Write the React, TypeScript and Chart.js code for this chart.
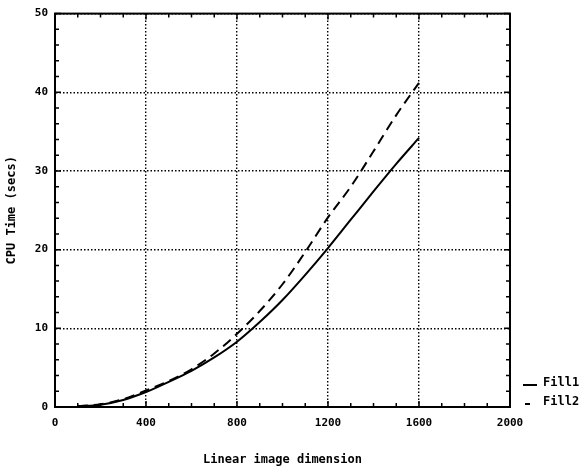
import React, { useEffect, useRef } from "react";
import { Chart, registerables } from "chart.js";
Chart.register(...registerables);

const dims = [100, 200, 300, 400, 500, 600, 700, 800, 900, 1000, 1100, 1200, 1300, 1400, 1500, 1600];
const fill1 = [0.1, 0.3, 0.9, 1.9, 3.2, 4.6, 6.3, 8.3, 10.8, 13.6, 16.8, 20.2, 23.8, 27.4, 30.9, 34.2];
const fill2 = [0.1, 0.35, 1.0, 2.1, 3.3, 4.8, 6.8, 9.3, 12.2, 15.6, 19.7, 24.1, 28.0, 32.5, 37.1, 41.2];
const seriesNames = ["Fill1", "Fill2"];
const xTitle = "Linear image dimension";
const yTitle = "CPU Time (secs)";

const FONT = "'DejaVu Sans Mono', 'Liberation Mono', monospace";

const framePlugin = {
  id: "frame",
  afterDraw(chart: any) {
    const { ctx, chartArea: a, scales } = chart;
    const xs = scales.x;
    const ys = scales.y;
    ctx.save();
    ctx.strokeStyle = "#000";
    ctx.setLineDash([]);
    ctx.lineWidth = 2;
    ctx.strokeRect(a.left, a.top, a.right - a.left, a.bottom - a.top);
    ctx.lineWidth = 1.5;
    ctx.beginPath();
    for (let v = 0; v <= 2000; v += 100) {
      const px = xs.getPixelForValue(v);
      const len = v % 400 === 0 ? 6 : 4;
      ctx.moveTo(px, a.bottom);
      ctx.lineTo(px, a.bottom - len);
      ctx.moveTo(px, a.top);
      ctx.lineTo(px, a.top + len);
    }
    for (let v = 0; v <= 50; v += 2) {
      const py = ys.getPixelForValue(v);
      const len = v % 10 === 0 ? 6 : 4;
      ctx.moveTo(a.left, py);
      ctx.lineTo(a.left + len, py);
      ctx.moveTo(a.right, py);
      ctx.lineTo(a.right - len, py);
    }
    ctx.stroke();
    // legend
    ctx.font = "bold 12px " + FONT;
    ctx.fillStyle = "#000";
    ctx.textBaseline = "middle";
    ctx.textAlign = "left";
    const lx = a.right + 13;
    const y1 = a.bottom - 24;
    const y2 = a.bottom - 5;
    ctx.lineWidth = 2;
    ctx.beginPath();
    ctx.moveTo(lx, y1 + 2);
    ctx.lineTo(lx + 14, y1 + 2);
    ctx.moveTo(lx + 2, y2 + 2);
    ctx.lineTo(lx + 7, y2 + 2);
    ctx.stroke();
    ctx.fillText(seriesNames[0], lx + 20, y1);
    ctx.fillText(seriesNames[1], lx + 20, y2);
    ctx.restore();
  },
};

export default function App() {
  const ref = useRef<HTMLCanvasElement>(null);
  useEffect(() => {
    if (!ref.current) return;
    const chart = new Chart(ref.current, {
      type: "line",
      data: {
        datasets: [
          {
            label: seriesNames[0],
            data: dims.map((d, i) => ({ x: d, y: fill1[i] })),
            borderColor: "#000",
            borderWidth: 2,
            pointRadius: 0,
            cubicInterpolationMode: "monotone",
            fill: false,
          },
          {
            label: seriesNames[1],
            data: dims.map((d, i) => ({ x: d, y: fill2[i] })),
            borderColor: "#000",
            borderWidth: 2,
            borderDash: [10, 6],
            pointRadius: 0,
            cubicInterpolationMode: "monotone",
            fill: false,
          },
        ],
      },
      options: {
        animation: false,
        responsive: false,
        layout: { padding: { left: 0, top: 11, right: 72, bottom: 0 } },
        plugins: { legend: { display: false }, tooltip: { enabled: false } },
        scales: {
          x: {
            type: "linear",
            min: 0,
            max: 2000,
            afterFit: (s: any) => {
              s.height = 64;
            },
            ticks: {
              stepSize: 400,
              color: "#000",
              padding: 10,
              maxRotation: 0,
              callback: (v: any) => String(v),
              font: { family: FONT, size: 11, weight: "bold" },
            },
            grid: { color: "#000", lineWidth: 1.4, drawTicks: false },
            border: { display: true, color: "#000", width: 2, dash: [1.5, 2] },
            title: {
              display: true,
              text: xTitle,
              color: "#000",
              font: { family: FONT, size: 12, weight: "bold" },
              padding: { top: 0, bottom: 4 },
            },
          },
          y: {
            type: "linear",
            min: 0,
            max: 50,
            afterFit: (s: any) => {
              s.width = 55;
            },
            ticks: {
              stepSize: 10,
              color: "#000",
              padding: 7,
              callback: (v: any) => String(v),
              font: { family: FONT, size: 11, weight: "bold" },
            },
            grid: { color: "#000", lineWidth: 1.4, drawTicks: false },
            border: { display: true, color: "#000", width: 2, dash: [1.5, 2] },
            title: {
              display: true,
              text: yTitle,
              color: "#000",
              font: { family: FONT, size: 12, weight: "bold" },
              padding: { top: 5, bottom: 0 },
            },
          },
        },
      },
      plugins: [framePlugin],
    } as any);
    return () => chart.destroy();
  }, []);
  return (
    <div style={{ position: "fixed", left: 0, top: 0, width: 582, height: 471, background: "#fff" }}>
      <canvas ref={ref} width={582} height={471} style={{ display: "block" }} />
    </div>
  );
}
